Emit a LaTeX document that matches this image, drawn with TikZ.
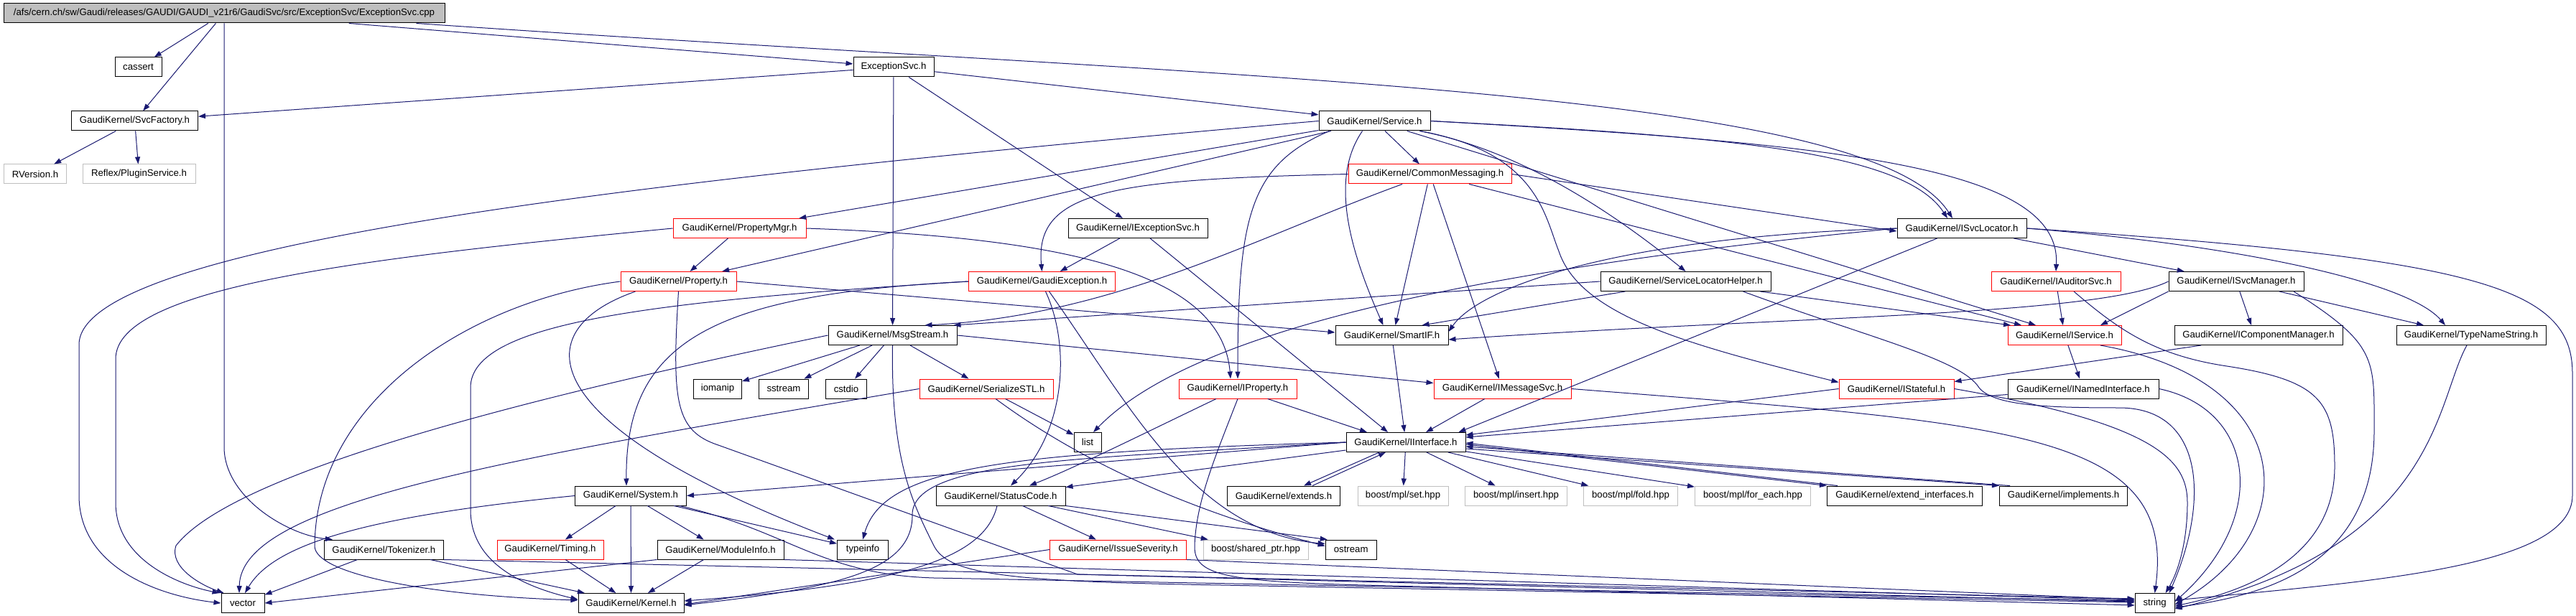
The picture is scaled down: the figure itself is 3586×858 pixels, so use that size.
\documentclass[tikz,border=0pt]{standalone}
\usepackage{fontspec}
\setmainfont{Liberation Sans}
\usepackage{xcolor}
\usepackage{tikz}
\usetikzlibrary{arrows.meta}
\definecolor{edgeblue}{HTML}{191970}
\definecolor{boxgray}{HTML}{BFBFBF}

\begin{document}
\begin{tikzpicture}[x=1pt, y=-1pt, line width=1pt,
  >={Triangle[length=10pt,width=7pt]},
  file/.style={draw=black, rectangle, minimum height=27pt, inner sep=0pt, font=\fontsize{13.2}{15}\selectfont},
  trunc/.style={file, draw=red},
  ext/.style={file, draw=boxgray},
  top/.style={file, fill=boxgray},
  dep/.style={->, draw=edgeblue}]
	\useasboundingbox (0,0) rectangle (3586,858);

	% Files, row by row
	\node[top, minimum width=614pt] (root) at (312,18.5) {/afs/cern.ch/sw/Gaudi/releases/GAUDI/GAUDI\_v21r6/GaudiSvc/src/ExceptionSvc/ExceptionSvc.cpp};
	
	\node[file, minimum width=65pt] (cassert) at (192.5,93.5) {cassert};
	\node[file, minimum width=112pt] (exsvch) at (1244,93.5) {ExceptionSvc.h};
	
	\node[file, minimum width=176pt] (svcfactory) at (187.5,168.5) {GaudiKernel/SvcFactory.h};
	\node[file, minimum width=155pt] (service) at (1913.5,168.5) {GaudiKernel/Service.h};
	
	\node[ext, minimum width=87pt] (rversion) at (49,242.5) {RVersion.h};
	\node[ext, minimum width=157pt] (plugin) at (193.5,242.5) {Reflex/PluginService.h};
	\node[trunc, minimum width=227pt] (commsg) at (1990.5,242.5) {GaudiKernel/CommonMessaging.h};
	
	\node[trunc, minimum width=185pt] (propmgr) at (1029.5,318) {GaudiKernel/PropertyMgr.h};
	\node[file, minimum width=194pt] (iexsvc) at (1584,318) {GaudiKernel/IExceptionSvc.h};
	\node[file, minimum width=180pt] (isvcloc) at (2731,318) {GaudiKernel/ISvcLocator.h};
	
	\node[trunc, minimum width=161pt] (property) at (944.5,392) {GaudiKernel/Property.h};
	\node[trunc, minimum width=204pt] (gexc) at (1450.5,392) {GaudiKernel/GaudiException.h};
	\node[file, minimum width=237pt] (slhelper) at (2346.5,392) {GaudiKernel/ServiceLocatorHelper.h};
	\node[trunc, minimum width=180pt] (iauditor) at (2862,392) {GaudiKernel/IAuditorSvc.h};
	\node[file, minimum width=188pt] (ismgr) at (3113,392) {GaudiKernel/ISvcManager.h};
	
	\node[file, minimum width=179pt] (msgstream) at (1242.5,467) {GaudiKernel/MsgStream.h};
	\node[file, minimum width=157pt] (smartif) at (1937.5,467) {GaudiKernel/SmartIF.h};
	\node[trunc, minimum width=158pt] (iservice) at (2874,467) {GaudiKernel/IService.h};
	\node[file, minimum width=234pt] (icompmgr) at (3144,467) {GaudiKernel/IComponentManager.h};
	\node[file, minimum width=208pt] (typename) at (3440,467) {GaudiKernel/TypeNameString.h};
	
	\node[file, minimum width=67pt] (iomanip) at (999,541.5) {iomanip};
	\node[file, minimum width=69pt] (sstream) at (1091,541.5) {sstream};
	\node[file, minimum width=57pt] (cstdio) at (1178,541.5) {cstdio};
	\node[trunc, minimum width=186pt] (serialize) at (1373,541.5) {GaudiKernel/SerializeSTL.h};
	\node[trunc, minimum width=164pt] (iproperty) at (1723,541.5) {GaudiKernel/IProperty.h};
	\node[trunc, minimum width=191pt] (imsgsvc) at (2091.5,541.5) {GaudiKernel/IMessageSvc.h};
	\node[trunc, minimum width=160pt] (istateful) at (2640,541.5) {GaudiKernel/IStateful.h};
	\node[file, minimum width=210pt] (inamed) at (2900,541.5) {GaudiKernel/INamedInterface.h};
	
	\node[file, minimum width=38pt] (list) at (1514,616) {list};
	\node[file, minimum width=166pt] (iinterface) at (1957,616) {GaudiKernel/IInterface.h};
	
	\node[file, minimum width=155pt] (system) at (878,690.5) {GaudiKernel/System.h};
	\node[file, minimum width=180pt] (statuscode) at (1393,690.5) {GaudiKernel/StatusCode.h};
	\node[file, minimum width=157pt] (extends) at (1787,690.5) {GaudiKernel/extends.h};
	\node[ext, minimum width=126pt] (mplset) at (1953,690.5) {boost/mpl/set.hpp};
	\node[ext, minimum width=142pt] (mplinsert) at (2110.5,690.5) {boost/mpl/insert.hpp};
	\node[ext, minimum width=131pt] (mplfold) at (2270,690.5) {boost/mpl/fold.hpp};
	\node[ext, minimum width=161pt] (mplforeach) at (2440,690.5) {boost/mpl/for\_each.hpp};
	\node[file, minimum width=216pt] (extendif) at (2651.5,690.5) {GaudiKernel/extend\_interfaces.h};
	\node[file, minimum width=178pt] (implements) at (2872.5,690.5) {GaudiKernel/implements.h};
	
	\node[file, minimum width=166pt] (tokenizer) at (534.4,765.5) {GaudiKernel/Tokenizer.h};
	\node[trunc, minimum width=148pt] (timing) at (766,765.5) {GaudiKernel/Timing.h};
	\node[file, minimum width=176pt] (moduleinfo) at (1003,765.5) {GaudiKernel/ModuleInfo.h};
	\node[file, minimum width=71pt] (typeinfo) at (1201,765.5) {typeinfo};
	\node[trunc, minimum width=190pt] (issue) at (1556.5,765.5) {GaudiKernel/IssueSeverity.h};
	\node[ext, minimum width=146pt] (sharedptr) at (1748,765.5) {boost/shared\_ptr.hpp};
	\node[file, minimum width=71pt] (ostream) at (1880.7,765.5) {ostream};
	
	\node[file, minimum width=60pt] (vector) at (338,840) {vector};
	\node[file, minimum width=147pt] (kernel) at (878.5,840) {GaudiKernel/Kernel.h};
	\node[file, minimum width=55pt] (string) at (2999.6,840) {string};

	% ExceptionSvc.cpp
	\draw[dep] (root) -- (cassert);
	\draw[dep] (root) -- (svcfactory);
	\draw[dep] (root) -- (exsvch);
	\draw[dep] (root.south) -- ++(0,590) .. controls +(0,70) and (400,745) .. ([xshift=12pt]tokenizer.north west);
	\draw[dep] ([xshift=-40pt]root.south east) .. controls (1700,110) and (2600,120) .. ([xshift=-13pt]isvcloc.north);

	% ExceptionSvc.h
	\draw[dep] (exsvch) -- (svcfactory);
	\draw[dep] (exsvch) -- (service);
	\draw[dep] (exsvch) -- (iexsvc);
	\draw[dep] (exsvch) -- (msgstream);

	% SvcFactory.h
	\draw[dep] (svcfactory) -- (rversion);
	\draw[dep] (svcfactory) -- (plugin);

	% Service.h
	\draw[dep] (service) -- (commsg);
	\draw[dep] (service.west) .. controls (900,250) and (110,340) .. (110,480) -- (110,690) .. controls (110,790) and (220,830) .. (vector.west);
	\draw[dep] (service) -- (propmgr);
	\draw[dep] (service) -- (property);
	\draw[dep] ([xshift=15pt]service.south west) .. controls (1740,230) and (1723,300) .. (iproperty.north);
	\draw[dep] ([xshift=-17pt]service.south) .. controls (1850,250) and (1880,350) .. ([xshift=-12pt]smartif.north);
	\draw[dep] (service.east) .. controls (2400,190) and (2650,210) .. ([xshift=-20pt]isvcloc.north);
	\draw[dep] (service.east) .. controls (2550,200) and (2870,230) .. (iauditor.north);
	\draw[dep] (service) -- ([xshift=-40pt]iservice.north);
	\draw[dep] ([xshift=-15pt]service.south east) .. controls (2120,210) and (2250,300) .. (slhelper.north);
	\draw[dep] ([xshift=-15pt]service.south east) .. controls (2140,212) and (2150,300) .. (2170,350) .. controls (2200,440) and (2350,480) .. ([yshift=9pt]istateful.west);

	% CommonMessaging.h
	\draw[dep] (commsg.west) .. controls (1550,250) and (1440,265) .. (gexc.north);
	\draw[dep] (commsg) .. controls (1750,330) and (1550,440) .. ([xshift=45pt]msgstream.north);
	\draw[dep] (commsg) -- ([xshift=5pt]smartif.north);
	\draw[dep] (commsg) -- (imsgsvc);
	\draw[dep] (commsg.east) -- ([yshift=-4pt]isvcloc.west);
	\draw[dep] (commsg) -- ([xshift=-60pt]iservice.north);

	% PropertyMgr.h
	\draw[dep] (propmgr) -- (property);
	\draw[dep] (propmgr.west) .. controls (500,360) and (161,400) .. (161,500) -- (161,700) .. controls (161,780) and (250,815) .. ([xshift=-2pt]vector.north west);
	\draw[dep] (propmgr.east) .. controls (1450,330) and (1700,370) .. ([xshift=-10pt]iproperty.north);

	% IExceptionSvc.h
	\draw[dep] (iexsvc) -- (gexc);
	\draw[dep] (iexsvc) -- ([xshift=-25pt]iinterface.north);

	% Property.h
	\draw[dep] (property.west) .. controls (650,420) and (440,560) .. (438,760) .. controls (437,800) and (600,830) .. ([yshift=4pt]kernel.west);
	\draw[dep] ([xshift=-60pt]property.south) .. controls (730,460) and (740,590) .. ([xshift=-3pt]typeinfo.north west);
	\draw[dep] (property.south) .. controls (935,560) and (940,600) .. (1000,620) -- (1500,800) -- ([yshift=2pt]string.west);
	\draw[dep] (property.east) -- ([yshift=4pt]smartif.west);

	% GaudiException.h
	\draw[dep] (gexc.west) .. controls (1000,410) and (870,470) .. ([xshift=-6pt]system.north);
	\draw[dep] (gexc.west) .. controls (900,420) and (655,450) .. (655,540) -- (655,710) .. controls (655,780) and (720,815) .. ([yshift=5pt]kernel.west);
	\draw[dep] ([xshift=5pt]gexc.south) .. controls (1490,480) and (1485,600) .. ([xshift=14pt]statuscode.north);
	\draw[dep] ([xshift=10pt]gexc.south) .. controls (1570,560) and (1660,740) .. ([yshift=8pt]ostream.west);

	% MsgStream.h
	\draw[dep] (msgstream) -- (iomanip);
	\draw[dep] (msgstream) -- (sstream);
	\draw[dep] (msgstream) -- (cstdio);
	\draw[dep] (msgstream) -- (serialize);
	\draw[dep] (msgstream.east) -- ([yshift=8pt]imsgsvc.west);
	\draw[dep] (msgstream.west) .. controls (800,540) and (330,650) .. (245,760) .. controls (235,790) and (280,815) .. ([xshift=4pt]vector.north west);
	\draw[dep] (msgstream.south) .. controls (1240,640) and (1270,700) .. (1300,760) .. controls (1320,800) and (1400,810) .. (1700,815) -- ([yshift=1pt]string.west);

	% SerializeSTL.h
	\draw[dep] (serialize) -- (list);
	\draw[dep] (serialize.west) .. controls (700,640) and (335,700) .. ([xshift=-5pt]vector.north);
	\draw[dep] ([xshift=13pt]serialize.south) .. controls (1500,640) and (1650,710) .. ([yshift=5pt]ostream.west);

	% IProperty.h
	\draw[dep] (iproperty) -- ([xshift=-54pt]iinterface.north);
	\draw[dep] ([xshift=-30pt]iproperty.south) .. controls (1600,600) and (1500,650) .. ([xshift=40pt]statuscode.north);
	\draw[dep] (iproperty.south) .. controls (1690,640) and (1665,700) .. (1663,760) .. controls (1662,800) and (1700,810) .. (1900,815) -- ([yshift=-3pt]string.west);

	% IMessageSvc.h
	\draw[dep] (imsgsvc) -- ([xshift=28pt]iinterface.north);
	\draw[dep] (imsgsvc.east) .. controls (2800,590) and (3030,600) .. (string.north);

	% IStateful.h, INamedInterface.h
	\draw[dep] (istateful.west) -- ([yshift=10pt]iinterface.east);
	\draw[dep] (istateful.east) .. controls (3000,590) and (3045,640) .. (3045,700) .. controls (3045,760) and (3030,800) .. ([xshift=15pt]string.north);
	\draw[dep] ([yshift=-8pt]inamed.west) -- ([yshift=7pt]iinterface.east);
	\draw[dep] (inamed.east) .. controls (3140,570) and (3160,720) .. ([yshift=2pt]string.east);

	% IService.h, IAuditorSvc.h
	\draw[dep] (iservice) -- (inamed);
	\draw[dep] ([xshift=50pt]iservice.south) .. controls (3200,530) and (3210,740) .. ([yshift=-2pt]string.east);
	\draw[dep] (iauditor) -- (iservice);
	\draw[dep] ([xshift=25pt]iauditor.south) .. controls (2950,460) and (3000,495) .. (3100,510) .. controls (3230,530) and (3250,560) .. (3250,650) .. controls (3250,780) and (3120,825) .. ([yshift=-4pt]string.east);

	% ISvcManager.h, IComponentManager.h, TypeNameString.h
	\draw[dep] (ismgr) -- ([xshift=-10pt]icompmgr.north);
	\draw[dep] (ismgr.south west) -- ([xshift=50pt]iservice.north);
	\draw[dep] ([xshift=60pt]ismgr.south) -- ([xshift=-66pt]typename.north);
	\draw[dep] ([xshift=80pt]ismgr.south) .. controls (3310,480) and (3305,500) .. (3305,600) .. controls (3305,790) and (3150,830) .. ([yshift=-6pt]string.east);
	\draw[dep] (ismgr.west) .. controls (2920,440) and (2500,440) .. ([yshift=-6pt]smartif.east);
	\draw[dep] ([xshift=-80pt]icompmgr.south) -- ([yshift=10pt]istateful.east);
	\draw[dep] ([xshift=-6pt]typename.south) .. controls (3390,560) and (3395,760) .. ([yshift=-8pt]string.east);

	% ISvcLocator.h
	\draw[dep] (isvcloc) -- ([xshift=-10pt]iinterface.north east);
	\draw[dep] (isvcloc) -- (ismgr);
	\draw[dep] (isvcloc.east) .. controls (3100,340) and (3350,390) .. ([xshift=-36pt]typename.north);
	\draw[dep] (isvcloc.east) .. controls (3450,360) and (3581,400) .. (3581,520) -- (3581,690) .. controls (3581,790) and (3300,810) .. ([yshift=4pt]string.east);
	\draw[dep] (isvcloc.west) .. controls (2250,330) and (2060,400) .. ([yshift=5pt]smartif.east);
	\draw[dep] (isvcloc.west) .. controls (2000,380) and (1650,470) .. ([xshift=8pt]list.north);

	% ServiceLocatorHelper.h
	\draw[dep] (slhelper.west) -- ([xshift=-5pt]msgstream.north east);
	\draw[dep] (slhelper) -- ([xshift=42pt]smartif.north);
	\draw[dep] (slhelper) -- ([xshift=-75pt]iservice.north);
	\draw[dep] ([xshift=80pt]slhelper.south) .. controls (2600,470) and (2730,500) .. (2755,540) .. controls (2775,565) and (2850,568) .. (2950,568) .. controls (3070,568) and (3075,700) .. ([xshift=20pt]string.north);

	% SmartIF.h
	\draw[dep] (smartif) -- (iinterface);

	% System.h
	\draw[dep] (system) -- (timing);
	\draw[dep] (system) -- (kernel);
	\draw[dep] (system) -- (moduleinfo);
	\draw[dep] (system) -- (typeinfo);
	\draw[dep] ([xshift=-10pt]system.south east) .. controls (1100,740) and (1140,800) .. (1300,805) -- ([yshift=3pt]string.west);
	\draw[dep] (system.west) .. controls (500,720) and (380,760) .. ([xshift=3pt]vector.north);

	% Timing.h, ModuleInfo.h, Tokenizer.h
	\draw[dep] (timing) -- (kernel);
	\draw[dep] (moduleinfo) -- (kernel);
	\draw[dep] (moduleinfo.south east) -- ([yshift=4pt]string.west);
	\draw[dep] (moduleinfo.south west) -- (vector.east);
	\draw[dep] (tokenizer) -- (kernel);
	\draw[dep] (tokenizer) -- (vector);
	\draw[dep] (tokenizer.south east) -- ([yshift=6pt]string.west);

	% StatusCode.h, IssueSeverity.h
	\draw[dep] (statuscode) -- (issue);
	\draw[dep] (statuscode) -- (sharedptr);
	\draw[dep] ([xshift=-5pt]statuscode.south) .. controls (1370,780) and (1250,815) .. ([yshift=3pt]kernel.east);
	\draw[dep] (statuscode.south east) -- ([xshift=3pt]ostream.north west);
	\draw[dep] (issue.west) -- ([yshift=-2pt]kernel.east);
	\draw[dep] (issue.south east) -- ([yshift=5pt]string.west);

	% IInterface.h
	\draw[dep] (iinterface.west) .. controls (1500,640) and (1265,640) .. (1270,720) .. controls (1268,800) and (1150,820) .. ([yshift=-3pt]kernel.east);
	\draw[dep] (iinterface.west) -- (system.east);
	\draw[dep] (iinterface) -- (statuscode);
	\draw[dep] (iinterface.west) .. controls (1400,630) and (1230,650) .. (typeinfo.north);
	\draw[dep] (iinterface) -- (mplset);
	\draw[dep] (iinterface) -- (mplinsert);
	\draw[dep] (iinterface) -- (mplfold);
	\draw[dep] (iinterface) -- (mplforeach);
	\draw[dep] ([xshift=-37pt]iinterface.south) -- ([xshift=28pt]extends.north);
	\draw[dep] ([xshift=40pt]extends.north) -- ([xshift=-28pt]iinterface.south);
	\draw[dep] ([yshift=-3pt]iinterface.east) -- (extendif.north west);
	\draw[dep] ([xshift=15pt]extendif.north west) -- ([yshift=-1pt]iinterface.east);
	\draw[dep] ([yshift=-9pt]iinterface.east) -- (implements.north west);
	\draw[dep] ([xshift=15pt]implements.north west) -- ([yshift=-6pt]iinterface.east);
\end{tikzpicture}
\end{document}
